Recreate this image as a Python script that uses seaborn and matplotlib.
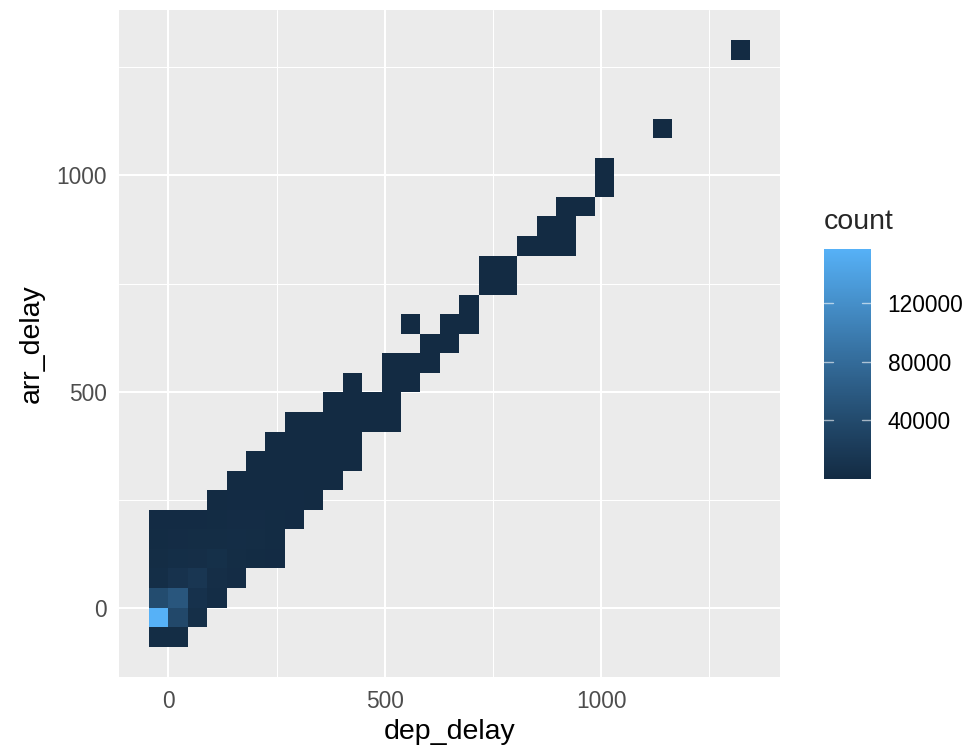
import numpy as np
import pandas as pd
import matplotlib
matplotlib.use("Agg")
import matplotlib.pyplot as plt
from matplotlib.colors import ListedColormap
import seaborn as sns

# ---- binned flight delays: 2D bins over dep_delay (x) and arr_delay (y) ----
x_origin, x_width = -44.8, 44.8        # dep_delay bin edges start / width
y_origin, y_width = -90.533, 45.267    # arr_delay bin edges start / width
n_xbins, n_ybins = 31, 31

# For every arr_delay bin row: the dep_delay bin columns that hold flights
row_index = list(range(0, 25)) + [26, 30]
row_cols = [
    [0, 1],
    [0, 1, 2],
    [0, 1, 2, 3],
    [0, 1, 2, 3, 4],
    [0, 1, 2, 3, 4, 5, 6],
    [0, 1, 2, 3, 4, 5, 6],
    [0, 1, 2, 3, 4, 5, 6, 7],
    [3, 4, 5, 6, 7, 8],
    [4, 5, 6, 7, 8, 9],
    [5, 6, 7, 8, 9, 10],
    [6, 7, 8, 9, 10],
    [7, 8, 9, 10, 11, 12],
    [9, 10, 11, 12],
    [10, 12, 13],
    [12, 13, 14],
    [14, 15],
    [13, 15, 16],
    [16],
    [17, 18],
    [17, 18],
    [19, 20, 21],
    [20, 21],
    [21, 22],
    [23],
    [23],
    [26],
    [30],
]
# ... and the number of flights in each of those cells
row_counts = [
    [3000, 2500],
    [157000, 38000, 5000],
    [42000, 55000, 9000, 3500],
    [4000, 10000, 15000, 4500, 2000],
    [2500, 4000, 4500, 6500, 3000, 1800, 900],
    [1500, 2000, 2500, 3000, 3500, 2500, 1500],
    [800, 1000, 1200, 1500, 2000, 2000, 1500, 800],
    [600, 900, 1100, 1100, 900, 400],
    [300, 500, 600, 600, 450, 200],
    [150, 250, 300, 280, 200, 80],
    [100, 130, 150, 120, 60],
    [40, 60, 70, 70, 50, 15],
    [20, 30, 25, 10],
    [6, 8, 4],
    [4, 5, 3],
    [2, 2],
    [1, 2, 1],
    [2],
    [1, 1],
    [1, 1],
    [1, 1, 1],
    [1, 1],
    [1, 1],
    [1],
    [1],
    [1],
    [1],
]

x_edges = x_origin + x_width * np.arange(n_xbins + 1)
y_edges = y_origin + y_width * np.arange(n_ybins + 1)

recs = []
for j, cols, cnts in zip(row_index, row_cols, row_counts):
    for k, c in zip(cols, cnts):
        recs.append({
            "dep_delay": x_origin + (k + 0.5) * x_width,
            "arr_delay": y_origin + (j + 0.5) * y_width,
            "count": c,
        })
df = pd.DataFrame(recs)


# ---- ggplot-like gradient (#132B43 -> #56B1F7), interpolated in CIE Lab ----
_M = np.array([[0.4124564, 0.3575761, 0.1804375],
               [0.2126729, 0.7151522, 0.0721750],
               [0.0193339, 0.1191920, 0.9503041]])
_WHITE = _M @ np.ones(3)


def _hex(h):
    return np.array([int(h[i:i + 2], 16) for i in (1, 3, 5)]) / 255.0


def _lin(c):
    return np.where(c <= 0.04045, c / 12.92, ((c + 0.055) / 1.055) ** 2.4)


def _delin(c):
    return np.where(c <= 0.0031308, 12.92 * c, 1.055 * np.power(c, 1 / 2.4) - 0.055)


def _f(t):
    d = 6 / 29
    return np.where(t > d ** 3, np.cbrt(t), t / (3 * d * d) + 4 / 29)


def _finv(t):
    d = 6 / 29
    return np.where(t > d, t ** 3, 3 * d * d * (t - 4 / 29))


def to_lab(rgb):
    fx, fy, fz = _f(_M @ _lin(rgb) / _WHITE)
    return np.array([116 * fy - 16, 500 * (fx - fy), 200 * (fy - fz)])


def from_lab(lab):
    L, a, b = lab
    fy = (L + 16) / 116
    xyz = np.array([_finv(fy + a / 500), _finv(fy), _finv(fy - b / 200)]) * _WHITE
    rgb = np.linalg.solve(_M, xyz)
    return np.clip(_delin(np.clip(rgb, 0, 1)), 0, 1)


lo, hi = to_lab(_hex("#132B43")), to_lab(_hex("#56B1F7"))
cmap = ListedColormap([from_lab(lo + t * (hi - lo)) for t in np.linspace(0, 1, 256)])

# ---- figure ----
sns.set_style("white")
plt.rcParams["font.family"] = ["Liberation Sans", "DejaVu Sans"]

W, H = 977, 750
fig = plt.figure(figsize=(W / 100, H / 100), dpi=100)
ax = fig.add_axes([119 / W, 73 / H, 661 / W, 667 / H])
cax = fig.add_axes([824 / W, 271 / H, 47 / W, 230 / H])

sns.histplot(
    data=df, x="dep_delay", y="arr_delay", weights="count",
    bins=[x_edges, y_edges], cmap=cmap, vmin=1,
    cbar=True, cbar_ax=cax, ax=ax,
)

ax.set_facecolor("#EBEBEB")
for s in ax.spines.values():
    s.set_visible(False)
ax.set_xlim(-114.2, 1413.4)
ax.set_ylim(-160.7, 1383.0)
ax.set_xticks([0, 500, 1000])
ax.set_yticks([0, 500, 1000])
ax.set_xticks([250, 750, 1250], minor=True)
ax.set_yticks([250, 750, 1250], minor=True)
ax.set_axisbelow(True)
ax.grid(which="major", color="white", linewidth=1.5)
ax.grid(which="minor", color="white", linewidth=0.75)
ax.tick_params(which="major", length=5, width=1.1, color="#333333",
               labelsize=16.4, labelcolor="#4D4D4D", pad=4)
ax.tick_params(which="minor", length=0)
ax.set_xlabel("dep_delay", fontsize=20.5, color="black", labelpad=5)
ax.set_ylabel("arr_delay", fontsize=20.5, color="black", labelpad=8)

# colour bar styled as a ggplot legend
cbar = cax.collections[0].colorbar if hasattr(cax.collections[0], "colorbar") else None
cax.set_ylim(1, df["count"].max())
for s in cax.spines.values():
    s.set_visible(False)
cticks = [40000, 80000, 120000]
cax.set_yticks(cticks)
cax.set_yticklabels([str(t) for t in cticks])
cax.tick_params(axis="y", length=0, labelsize=16.4, labelcolor="black", pad=12)
cax.tick_params(axis="x", length=0, labelbottom=False)
for t in cticks:
    cax.axhline(t, 0, 0.2, color="white", linewidth=1.0, alpha=0.6)
    cax.axhline(t, 0.8, 1.0, color="white", linewidth=1.0, alpha=0.6)
fig.text(824 / W, 1 - 222 / H, "count", fontsize=20.5, ha="left", va="center")

fig.savefig("out.png", dpi=100)
